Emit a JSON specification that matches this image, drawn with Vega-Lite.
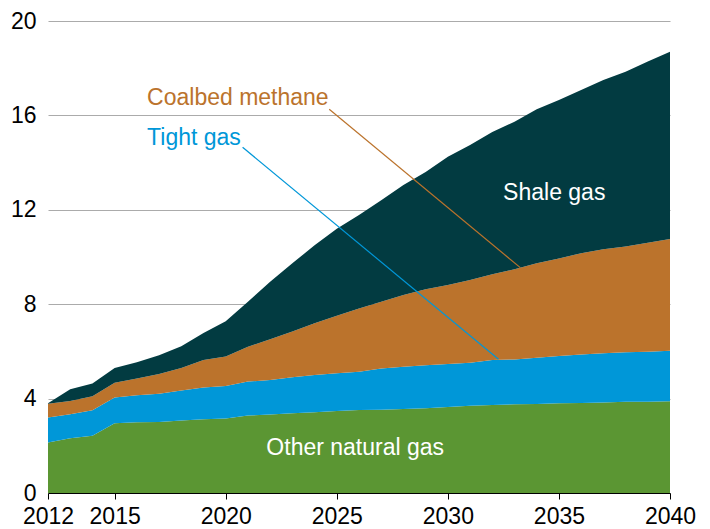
{
  "$schema": "https://vega.github.io/schema/vega-lite/v6.json",
  "width": 622,
  "height": 472,
  "autosize": {"type": "none"},
  "padding": {"left": 48, "top": 21, "right": 40, "bottom": 36},
  "background": "white",
  "config": {
    "font": "Liberation Sans",
    "view": {"stroke": null},
    "axis": {"labelFont": "Liberation Sans", "labelColor": "#000000", "labelFontSize": 23, "title": null}
  },
  "datasets": {
    "gas": [
      {"year": 2012, "series": "Other natural gas", "k": 1, "value": 2.14},
      {"year": 2012, "series": "Tight gas", "k": 2, "value": 1.06},
      {"year": 2012, "series": "Coalbed methane", "k": 3, "value": 0.58},
      {"year": 2012, "series": "Shale gas", "k": 4, "value": 0.02},
      {"year": 2013, "series": "Other natural gas", "k": 1, "value": 2.32},
      {"year": 2013, "series": "Tight gas", "k": 2, "value": 1.02},
      {"year": 2013, "series": "Coalbed methane", "k": 3, "value": 0.56},
      {"year": 2013, "series": "Shale gas", "k": 4, "value": 0.5},
      {"year": 2014, "series": "Other natural gas", "k": 1, "value": 2.43},
      {"year": 2014, "series": "Tight gas", "k": 2, "value": 1.08},
      {"year": 2014, "series": "Coalbed methane", "k": 3, "value": 0.59},
      {"year": 2014, "series": "Shale gas", "k": 4, "value": 0.54},
      {"year": 2015, "series": "Other natural gas", "k": 1, "value": 2.96},
      {"year": 2015, "series": "Tight gas", "k": 2, "value": 1.09},
      {"year": 2015, "series": "Coalbed methane", "k": 3, "value": 0.62},
      {"year": 2015, "series": "Shale gas", "k": 4, "value": 0.63},
      {"year": 2016, "series": "Other natural gas", "k": 1, "value": 3.0},
      {"year": 2016, "series": "Tight gas", "k": 2, "value": 1.14},
      {"year": 2016, "series": "Coalbed methane", "k": 3, "value": 0.71},
      {"year": 2016, "series": "Shale gas", "k": 4, "value": 0.69},
      {"year": 2017, "series": "Other natural gas", "k": 1, "value": 3.01},
      {"year": 2017, "series": "Tight gas", "k": 2, "value": 1.2},
      {"year": 2017, "series": "Coalbed methane", "k": 3, "value": 0.83},
      {"year": 2017, "series": "Shale gas", "k": 4, "value": 0.8},
      {"year": 2018, "series": "Other natural gas", "k": 1, "value": 3.07},
      {"year": 2018, "series": "Tight gas", "k": 2, "value": 1.27},
      {"year": 2018, "series": "Coalbed methane", "k": 3, "value": 0.96},
      {"year": 2018, "series": "Shale gas", "k": 4, "value": 0.92},
      {"year": 2019, "series": "Other natural gas", "k": 1, "value": 3.13},
      {"year": 2019, "series": "Tight gas", "k": 2, "value": 1.34},
      {"year": 2019, "series": "Coalbed methane", "k": 3, "value": 1.17},
      {"year": 2019, "series": "Shale gas", "k": 4, "value": 1.14},
      {"year": 2020, "series": "Other natural gas", "k": 1, "value": 3.16},
      {"year": 2020, "series": "Tight gas", "k": 2, "value": 1.37},
      {"year": 2020, "series": "Coalbed methane", "k": 3, "value": 1.25},
      {"year": 2020, "series": "Shale gas", "k": 4, "value": 1.5},
      {"year": 2021, "series": "Other natural gas", "k": 1, "value": 3.28},
      {"year": 2021, "series": "Tight gas", "k": 2, "value": 1.44},
      {"year": 2021, "series": "Coalbed methane", "k": 3, "value": 1.48},
      {"year": 2021, "series": "Shale gas", "k": 4, "value": 1.9},
      {"year": 2022, "series": "Other natural gas", "k": 1, "value": 3.33},
      {"year": 2022, "series": "Tight gas", "k": 2, "value": 1.46},
      {"year": 2022, "series": "Coalbed methane", "k": 3, "value": 1.72},
      {"year": 2022, "series": "Shale gas", "k": 4, "value": 2.44},
      {"year": 2023, "series": "Other natural gas", "k": 1, "value": 3.38},
      {"year": 2023, "series": "Tight gas", "k": 2, "value": 1.52},
      {"year": 2023, "series": "Coalbed methane", "k": 3, "value": 1.94},
      {"year": 2023, "series": "Shale gas", "k": 4, "value": 2.89},
      {"year": 2024, "series": "Other natural gas", "k": 1, "value": 3.42},
      {"year": 2024, "series": "Tight gas", "k": 2, "value": 1.58},
      {"year": 2024, "series": "Coalbed methane", "k": 3, "value": 2.19},
      {"year": 2024, "series": "Shale gas", "k": 4, "value": 3.31},
      {"year": 2025, "series": "Other natural gas", "k": 1, "value": 3.47},
      {"year": 2025, "series": "Tight gas", "k": 2, "value": 1.6},
      {"year": 2025, "series": "Coalbed methane", "k": 3, "value": 2.44},
      {"year": 2025, "series": "Shale gas", "k": 4, "value": 3.69},
      {"year": 2026, "series": "Other natural gas", "k": 1, "value": 3.52},
      {"year": 2026, "series": "Tight gas", "k": 2, "value": 1.62},
      {"year": 2026, "series": "Coalbed methane", "k": 3, "value": 2.68},
      {"year": 2026, "series": "Shale gas", "k": 4, "value": 3.96},
      {"year": 2027, "series": "Other natural gas", "k": 1, "value": 3.53},
      {"year": 2027, "series": "Tight gas", "k": 2, "value": 1.75},
      {"year": 2027, "series": "Coalbed methane", "k": 3, "value": 2.82},
      {"year": 2027, "series": "Shale gas", "k": 4, "value": 4.3},
      {"year": 2028, "series": "Other natural gas", "k": 1, "value": 3.56},
      {"year": 2028, "series": "Tight gas", "k": 2, "value": 1.79},
      {"year": 2028, "series": "Coalbed methane", "k": 3, "value": 3.04},
      {"year": 2028, "series": "Shale gas", "k": 4, "value": 4.66},
      {"year": 2029, "series": "Other natural gas", "k": 1, "value": 3.59},
      {"year": 2029, "series": "Tight gas", "k": 2, "value": 1.82},
      {"year": 2029, "series": "Coalbed methane", "k": 3, "value": 3.22},
      {"year": 2029, "series": "Shale gas", "k": 4, "value": 4.97},
      {"year": 2030, "series": "Other natural gas", "k": 1, "value": 3.64},
      {"year": 2030, "series": "Tight gas", "k": 2, "value": 1.83},
      {"year": 2030, "series": "Coalbed methane", "k": 3, "value": 3.34},
      {"year": 2030, "series": "Shale gas", "k": 4, "value": 5.44},
      {"year": 2031, "series": "Other natural gas", "k": 1, "value": 3.7},
      {"year": 2031, "series": "Tight gas", "k": 2, "value": 1.82},
      {"year": 2031, "series": "Coalbed methane", "k": 3, "value": 3.51},
      {"year": 2031, "series": "Shale gas", "k": 4, "value": 5.72},
      {"year": 2032, "series": "Other natural gas", "k": 1, "value": 3.73},
      {"year": 2032, "series": "Tight gas", "k": 2, "value": 1.91},
      {"year": 2032, "series": "Coalbed methane", "k": 3, "value": 3.63},
      {"year": 2032, "series": "Shale gas", "k": 4, "value": 6.03},
      {"year": 2033, "series": "Other natural gas", "k": 1, "value": 3.76},
      {"year": 2033, "series": "Tight gas", "k": 2, "value": 1.9},
      {"year": 2033, "series": "Coalbed methane", "k": 3, "value": 3.82},
      {"year": 2033, "series": "Shale gas", "k": 4, "value": 6.25},
      {"year": 2034, "series": "Other natural gas", "k": 1, "value": 3.77},
      {"year": 2034, "series": "Tight gas", "k": 2, "value": 1.96},
      {"year": 2034, "series": "Coalbed methane", "k": 3, "value": 4.0},
      {"year": 2034, "series": "Shale gas", "k": 4, "value": 6.53},
      {"year": 2035, "series": "Other natural gas", "k": 1, "value": 3.8},
      {"year": 2035, "series": "Tight gas", "k": 2, "value": 2.0},
      {"year": 2035, "series": "Coalbed methane", "k": 3, "value": 4.14},
      {"year": 2035, "series": "Shale gas", "k": 4, "value": 6.71},
      {"year": 2036, "series": "Other natural gas", "k": 1, "value": 3.81},
      {"year": 2036, "series": "Tight gas", "k": 2, "value": 2.06},
      {"year": 2036, "series": "Coalbed methane", "k": 3, "value": 4.29},
      {"year": 2036, "series": "Shale gas", "k": 4, "value": 6.92},
      {"year": 2037, "series": "Other natural gas", "k": 1, "value": 3.84},
      {"year": 2037, "series": "Tight gas", "k": 2, "value": 2.08},
      {"year": 2037, "series": "Coalbed methane", "k": 3, "value": 4.41},
      {"year": 2037, "series": "Shale gas", "k": 4, "value": 7.17},
      {"year": 2038, "series": "Other natural gas", "k": 1, "value": 3.87},
      {"year": 2038, "series": "Tight gas", "k": 2, "value": 2.09},
      {"year": 2038, "series": "Coalbed methane", "k": 3, "value": 4.48},
      {"year": 2038, "series": "Shale gas", "k": 4, "value": 7.41},
      {"year": 2039, "series": "Other natural gas", "k": 1, "value": 3.87},
      {"year": 2039, "series": "Tight gas", "k": 2, "value": 2.12},
      {"year": 2039, "series": "Coalbed methane", "k": 3, "value": 4.61},
      {"year": 2039, "series": "Shale gas", "k": 4, "value": 7.68},
      {"year": 2040, "series": "Other natural gas", "k": 1, "value": 3.89},
      {"year": 2040, "series": "Tight gas", "k": 2, "value": 2.14},
      {"year": 2040, "series": "Coalbed methane", "k": 3, "value": 4.73},
      {"year": 2040, "series": "Shale gas", "k": 4, "value": 7.94}
    ],
    "callouts": [
      {"series": "Coalbed methane", "label": "Coalbed methane", "lx": 2016.46, "ly": 16.72, "x1": 2024.66, "y1": 16.26, "x2": 2033.26, "y2": 9.55},
      {"series": "Tight gas", "label": "Tight gas", "lx": 2016.46, "ly": 15.03, "x1": 2020.76, "y1": 14.65, "x2": 2032.28, "y2": 5.67}
    ],
    "inlabels": [
      {"label": "Shale gas", "lx": 2034.79, "ly": 12.72},
      {"label": "Other natural gas", "lx": 2025.83, "ly": 1.89}
    ]
  },
  "layer": [
    {
      "data": {"name": "gas"},
      "mark": {"type": "area", "interpolate": "linear"},
      "encoding": {
        "x": {
          "field": "year", "type": "quantitative",
          "scale": {"domain": [2012, 2040], "nice": false, "zero": false},
          "axis": {
            "values": [2012, 2015, 2020, 2025, 2030, 2035, 2040],
            "format": "d", "grid": false, "domainColor": "#000000", "domainWidth": 1,
            "tickColor": "#000000", "tickSize": 6, "labelPadding": 6,
            "labelFlush": false, "labelOverlap": false, "zindex": 1
          }
        },
        "y": {
          "field": "value", "type": "quantitative", "stack": "zero",
          "scale": {"domain": [0, 20], "nice": false},
          "axis": {
            "values": [0, 4, 8, 12, 16, 20], "grid": true, "gridColor": "#ababab", "gridWidth": 1,
            "domain": false, "ticks": false, "labelPadding": 12
          }
        },
        "color": {
          "field": "series", "type": "nominal",
          "scale": {
            "domain": ["Other natural gas", "Tight gas", "Coalbed methane", "Shale gas"],
            "range": ["#5b9633", "#0097d8", "#bb732c", "#023b41"]
          },
          "legend": null
        },
        "order": {"field": "k", "type": "quantitative", "sort": "ascending"}
      }
    },
    {
      "data": {"name": "callouts"},
      "mark": {"type": "rule", "strokeWidth": 1.2},
      "encoding": {
        "x": {"field": "x1", "type": "quantitative"},
        "y": {"field": "y1", "type": "quantitative"},
        "x2": {"field": "x2"},
        "y2": {"field": "y2"},
        "color": {"field": "series", "type": "nominal", "legend": null}
      }
    },
    {
      "data": {"name": "callouts"},
      "mark": {"type": "text", "align": "left", "baseline": "middle", "fontSize": 23, "font": "Liberation Sans"},
      "encoding": {
        "x": {"field": "lx", "type": "quantitative"},
        "y": {"field": "ly", "type": "quantitative"},
        "text": {"field": "label"},
        "color": {"field": "series", "type": "nominal", "legend": null}
      }
    },
    {
      "data": {"name": "inlabels"},
      "mark": {"type": "text", "align": "center", "baseline": "middle", "fontSize": 23, "font": "Liberation Sans", "color": "#ffffff"},
      "encoding": {
        "x": {"field": "lx", "type": "quantitative"},
        "y": {"field": "ly", "type": "quantitative"},
        "text": {"field": "label"}
      }
    }
  ]
}
